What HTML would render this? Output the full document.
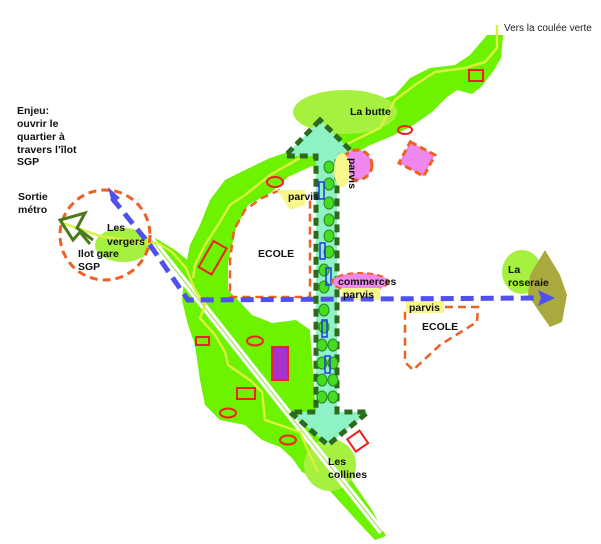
<!DOCTYPE html>
<html><head><meta charset="utf-8"><style>
html,body{margin:0;padding:0;background:#fff;}
svg{display:block;font-family:"Liberation Sans",sans-serif;}
.b{font-weight:bold;font-size:10.5px;fill:#111;}
</style></head><body>
<svg width="601" height="544" viewBox="0 0 601 544" xmlns="http://www.w3.org/2000/svg">
<path fill="#6df200" d="M503,35 L487,35 L470,55 L455,65 L430,68 L410,78 L395,95 L380,100 L360,110 L340,130 L320,140 L300,148 L270,158 L245,170 L225,180 L210,200 L200,225 L190,245 L185,270 L182,300 L188,325 L195,345 L200,380 L205,405 L220,420 L245,425 L262,440 L280,447 L292,458 L302,472 L322,482 L340,502 L358,522 L375,540 L386,536 L372,510 L348,475 L330,445 L322,425 L315,400 L310,330 L296,320 L272,323 L252,315 L238,300 L228,290 L228,262 L236,228 L248,205 L272,192 L288,177 L312,166 L332,164 L352,156 L368,146 L392,136 L412,126 L432,112 L447,97 L457,90 L472,94 L482,86 L494,70 L501,58 Z"/>
<path fill="#6df200" d="M150,235 L175,250 L190,262 L186,280 L168,262 L150,250 Z"/>
<ellipse cx="345" cy="112" rx="52" ry="22" fill="#a6f040"/>
<ellipse cx="123" cy="245" rx="28" ry="17" fill="#a6f040"/>
<circle cx="330" cy="465" r="26" fill="#a6f040"/>
<ellipse cx="522" cy="272" rx="20" ry="22" fill="#a6f040"/>
<path fill="#a9a93e" d="M545,250 L560,275 L567,295 L562,322 L550,327 L538,310 L528,295 L530,275 Z"/>
<line x1="150" y1="238" x2="382" y2="532" stroke="#fff" stroke-width="7"/>
<line x1="150" y1="238" x2="382" y2="532" stroke="#8fe040" stroke-width="1"/>
<path fill="none" stroke="#d8f040" stroke-width="2.5" d="M497,25 L497,48 L485,62 L465,68 L435,72 L415,85 L395,100 L380,128 L345,145 L320,148 L300,158 L270,175 L245,195 L230,205 L218,225 L205,245 L195,265 L193,278 M60,222 L100,236 L145,243 L158,243 L172,252 L186,268 L195,290 L205,305 L200,318 L215,335 L225,352 L228,365 L250,380 L262,392 L265,420 L300,432 L310,455 L318,472"/>
<circle cx="105" cy="235" r="45" fill="none" stroke="#f06020" stroke-width="3" stroke-dasharray="8,5"/>
<path d="M93,240 L77,228 L85,213 L60,220 L73,240 L80,232 L90,244" fill="none" stroke="#4a7a1a" stroke-width="3"/>
<path fill="none" stroke="#f06020" stroke-width="2.5" stroke-dasharray="8,5" d="M280,190 L262,198 L245,210 L234,230 L230,260 L230,297 L310,297 L310,200"/>
<path fill="none" stroke="#f06020" stroke-width="2.5" stroke-dasharray="8,5" d="M445,307 L478,307 L477,322 L440,345 L413,370 L405,362 L405,310"/>
<path fill="#8ff2c4" d="M320,120 L285,156 L316,156 L316,412 L290,412 L328,445 L368,412 L337,412 L337,156 L356,156 Z"/>
<path fill="none" stroke="#2d6a1c" stroke-width="5" stroke-dasharray="8,5" d="M320,120 L285,156 L316,156 L316,412 L290,412 L328,445 L368,412 L337,412 L337,156 L356,156 Z"/>
<g fill="#44dd22" stroke="#2a8a20" stroke-width="1">
<ellipse cx="329" cy="167" rx="5" ry="6"/><ellipse cx="329" cy="184" rx="5" ry="6"/><ellipse cx="329" cy="203" rx="5" ry="6"/><ellipse cx="329" cy="220" rx="5" ry="6"/><ellipse cx="329" cy="236" rx="5" ry="6"/><ellipse cx="329" cy="252" rx="5" ry="6"/><ellipse cx="324" cy="270" rx="5" ry="6"/><ellipse cx="324" cy="287" rx="5" ry="6"/><ellipse cx="324" cy="310" rx="5" ry="6"/><ellipse cx="324" cy="327" rx="5" ry="6"/><ellipse cx="322" cy="345" rx="5" ry="6"/><ellipse cx="333" cy="345" rx="5" ry="6"/><ellipse cx="322" cy="363" rx="5" ry="6"/><ellipse cx="333" cy="363" rx="5" ry="6"/><ellipse cx="322" cy="380" rx="5" ry="6"/><ellipse cx="333" cy="380" rx="5" ry="6"/><ellipse cx="322" cy="397" rx="5" ry="6"/><ellipse cx="333" cy="397" rx="5" ry="6"/>
</g>
<g fill="none" stroke="#2233ee" stroke-width="1.5">
<rect x="319" y="182" width="5" height="17"/><rect x="320" y="243" width="5" height="16"/><rect x="326" y="268" width="5" height="17"/><rect x="322" y="320" width="5" height="17"/><rect x="325" y="356" width="5" height="17"/>
</g>
<circle cx="357" cy="165" r="15" fill="#ee88ee" stroke="#f06020" stroke-width="3" stroke-dasharray="7,4"/>
<rect x="403" y="147" width="28" height="24" fill="#ee88ee" stroke="#f06020" stroke-width="3" stroke-dasharray="7,4" transform="rotate(28 417 159)"/>
<ellipse cx="360" cy="282" rx="28" ry="9" fill="#ee88ee" stroke="#f06020" stroke-width="2" stroke-dasharray="6,4"/>
<path fill="#f7f78a" d="M277,190 L305,190 L305,205 L290,210 Z"/>
<ellipse cx="342" cy="170" rx="8" ry="17" fill="#f7f78a"/>
<rect x="342" y="288" width="38" height="12" fill="#f7f78a"/>
<rect x="406" y="301" width="38" height="12" fill="#f7f78a"/>
<g fill="none" stroke="#ee2020" stroke-width="2">
<rect x="469" y="70" width="14" height="11"/>
<ellipse cx="405" cy="130" rx="7" ry="4"/>
<ellipse cx="275" cy="182" rx="8" ry="5"/>
<rect x="198" y="250" width="30" height="15" transform="rotate(-60 213 258)"/>
<rect x="196" y="337" width="13" height="8"/>
<ellipse cx="255" cy="341" rx="8" ry="4.5"/>
<rect x="272" y="347" width="16" height="33" fill="#aa33cc"/>
<rect x="237" y="388" width="18" height="11"/>
<ellipse cx="228" cy="413" rx="8" ry="4.5"/>
<ellipse cx="288" cy="440" rx="8" ry="4.5"/>
<rect x="350" y="434" width="15" height="15" transform="rotate(-35 357 441)"/>
</g>
<path fill="none" stroke="#5050ee" stroke-width="5" stroke-dasharray="13,7" d="M112,198 L150,245 L188,300 L540,298"/>
<path fill="#5050ee" d="M108,187 L120,198 L112,203 Z M555,298 L538,290 L541,298 L538,306 Z"/>
<text x="504" y="31" font-size="10" fill="#222">Vers la coulée verte</text>
<g class="b">
<text x="17" y="114">Enjeu:</text><text x="17" y="127">ouvrir le</text><text x="17" y="140">quartier à</text><text x="17" y="153">travers l’îlot</text><text x="17" y="165">SGP</text>
<text x="18" y="200">Sortie</text><text x="18" y="213">métro</text>
<text x="107" y="231">Les</text><text x="107" y="245">vergers</text>
<text x="78" y="257">Ilot gare</text><text x="78" y="270">SGP</text>
<text x="350" y="115">La butte</text>
<text x="288" y="200">parvis</text>
<text x="0" y="0" transform="translate(349,158) rotate(90)">parvis</text>
<text x="258" y="257">ECOLE</text>
<text x="338" y="285">commerces</text>
<text x="343" y="298">parvis</text>
<text x="409" y="311">parvis</text>
<text x="422" y="330">ECOLE</text>
<text x="508" y="273">La</text><text x="508" y="286">roseraie</text>
<text x="328" y="465">Les</text><text x="328" y="478">collines</text>
</g>
</svg>
</body></html>
